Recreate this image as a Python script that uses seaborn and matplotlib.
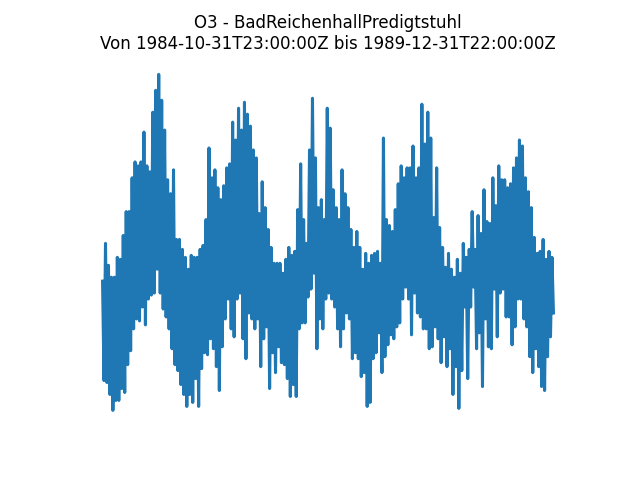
import numpy as np
import pandas as pd
import matplotlib
matplotlib.use('Agg')
import matplotlib.pyplot as plt
import seaborn as sns

# Station / period
station = 'BadReichenhallPredigtstuhl'
start = '1984-10-31T23:00:00Z'
end = '1989-12-31T22:00:00Z'

# O3 values: upper and lower swing per time slice
o3_high = [65, 84, 73, 67, 67, 77, 76, 88, 100, 100, 117, 125, 123, 125, 140, 123,
           120, 150, 161, 169, 156, 141, 116, 109, 121, 86, 86, 81, 77, 71, 78, 77,
           77, 81, 83, 96, 132, 117, 121, 112, 106, 113, 122, 124, 145, 136, 152, 141,
           155, 149, 143, 131, 127, 99, 115, 102, 91, 82, 74, 74, 74, 69, 76, 82,
           78, 80, 101, 124, 96, 84, 131, 157, 127, 102, 106, 96, 152, 142, 111, 102,
           96, 121, 109, 102, 91, 82, 90, 82, 71, 79, 74, 78, 79, 80, 74, 137,
           96, 93, 90, 101, 114, 123, 117, 122, 122, 133, 117, 122, 154, 134, 150, 137,
           97, 122, 92, 82, 72, 79, 71, 67, 76, 69, 84, 77, 81, 100, 81, 98,
           89, 111, 95, 94, 117, 103, 123, 116, 116, 112, 114, 122, 127, 136, 133, 117,
           110, 102, 87, 79, 80, 86, 76, 80, 77]
o3_low = [15, 14, 8, 0, 5, 5, 11, 9, 23, 30, 41, 46, 45, 52, 43, 56,
          58, 59, 71, 59, 51, 47, 41, 31, 23, 20, 13, 8, 2, 8, 4, 16,
          2, 21, 29, 28, 36, 31, 22, 10, 32, 46, 56, 41, 37, 56, 59, 36,
          26, 49, 46, 41, 46, 22, 36, 42, 11, 29, 19, 32, 24, 23, 16, 7,
          13, 7, 41, 44, 44, 57, 61, 69, 31, 46, 41, 56, 59, 56, 52, 41,
          32, 41, 49, 46, 26, 29, 26, 17, 19, 2, 4, 26, 29, 39, 19, 27,
          33, 38, 36, 42, 44, 56, 62, 56, 38, 59, 49, 47, 41, 41, 31, 32,
          42, 36, 24, 37, 22, 31, 8, 22, 1, 20, 52, 16, 52, 62, 31, 39,
          12, 46, 32, 31, 61, 37, 59, 61, 47, 47, 33, 42, 56, 56, 46, 42,
          27, 19, 31, 22, 12, 10, 27, 37, 49]

values = []
for h, l in zip(o3_high, o3_low):
    values.append(h)
    values.append(l)

dates = pd.date_range(start, end, periods=len(values))
df = pd.DataFrame({'Datum': dates, 'O3': values})

plt.figure(figsize=(6.4, 4.8), dpi=100)
ax = sns.lineplot(data=df, x='Datum', y='O3', estimator=None, color='#1f77b4', linewidth=2.2)
ax.set_title(f'O3 - {station}\nVon {start} bis {end}')
ax.axis('off')
plt.savefig('out.png', dpi=100)
